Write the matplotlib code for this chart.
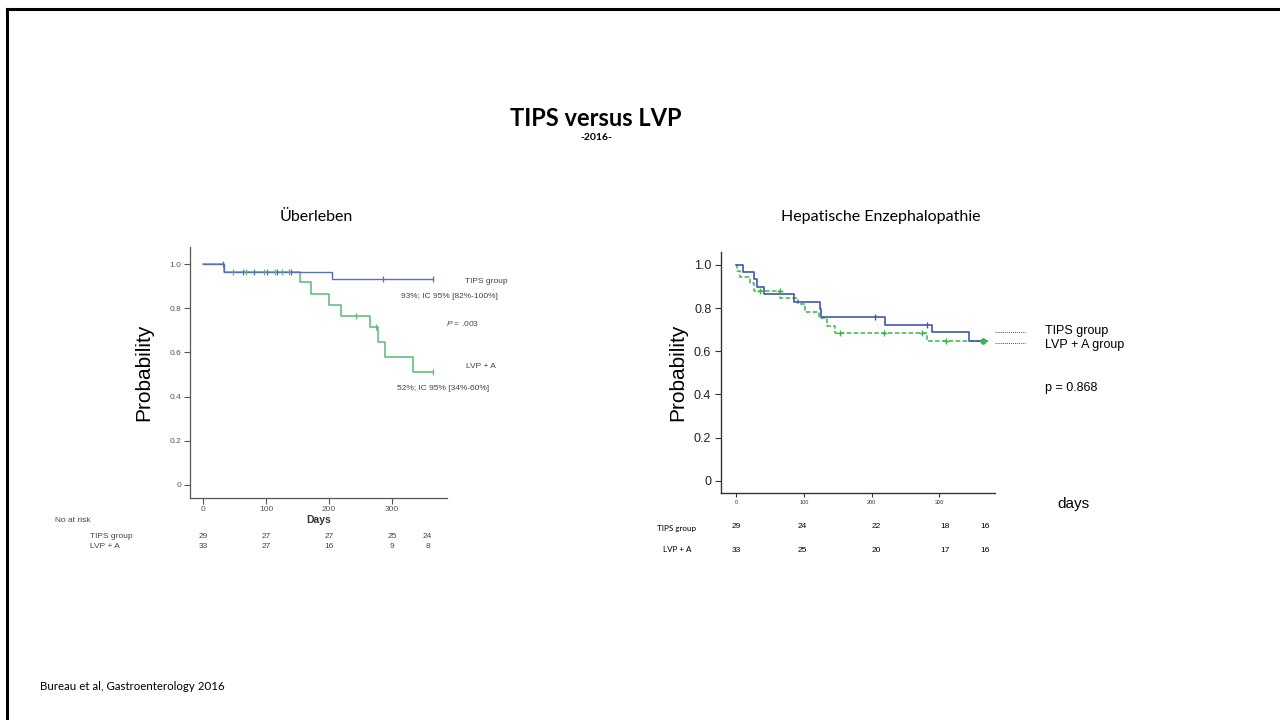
import numpy as np
import matplotlib
matplotlib.use("Agg")
import matplotlib.pyplot as plt
from matplotlib.lines import Line2D
from matplotlib import transforms

plt.rcParams["mathtext.fontset"] = "custom"
plt.rcParams["mathtext.it"] = "Liberation Sans:italic"
plt.rcParams["mathtext.rm"] = "Liberation Sans"

# ---------------- data ----------------
# Left panel: survival (Überleben)
surv_tips_t = [0, 33, 205, 365]
surv_tips_s = [1.0, 0.966, 0.931, 0.931]
surv_lvp_t = [0, 33, 154, 171, 200, 219, 265, 278, 289, 333, 365]
surv_lvp_s = [1.0, 0.966, 0.92, 0.866, 0.814, 0.766, 0.715, 0.647, 0.579, 0.513, 0.513]
surv_tips_cens = [31, 64, 81, 101, 117, 139, 285, 365]
surv_lvp_cens = [48, 68, 97, 114, 125, 136, 242, 275, 365]
surv_risk_days = [0, 100, 200, 300, 356]
surv_risk_tips = [29, 27, 27, 25, 24]
surv_risk_lvp = [33, 27, 16, 9, 8]
surv_xticks = [0, 100, 200, 300]
surv_yticks = [0, 0.2, 0.4, 0.6, 0.8, 1.0]
surv_yticklabels = ["0", "0.2", "0.4", "0.6", "0.8", "1.0"]

# Right panel: hepatic encephalopathy
he_tips_t = [0, 10, 25.6, 30.5, 41, 84.5, 123, 125.6, 220, 289, 343, 370]
he_tips_s = [1.0, 0.969, 0.934, 0.899, 0.866, 0.83, 0.795, 0.76, 0.723, 0.689, 0.649, 0.649]
he_tips_cens = [205, 282, 364]
he_lvp_t = [0, 1, 6, 20.6, 25.6, 65, 91, 101, 121.5, 134, 145, 281, 364]
he_lvp_s = [1.0, 0.974, 0.943, 0.915, 0.881, 0.848, 0.818, 0.784, 0.753, 0.717, 0.686, 0.649, 0.649]
he_lvp_cens = [35, 64, 153.5, 218.6, 274, 310]
he_risk_days = [0, 97, 207, 308, 367]
he_risk_tips = [29, 24, 22, 18, 16]
he_risk_lvp = [33, 25, 20, 17, 16]
he_xticks = [0, 100, 200, 300]
he_yticks = [0, 0.2, 0.4, 0.6, 0.8, 1.0]
he_yticklabels = ["0", "0.2", "0.4", "0.6", "0.8", "1.0"]

W, H = 1280, 720
CHART_FONT = "Liberation Sans"
SLIDE_FONT = "Lato"

fig = plt.figure(figsize=(12.8, 7.2), dpi=100)
fig.patch.set_facecolor("white")


def fx(x):
    return x / W


def fy(y):
    return 1 - y / H


def ftext(x, y, s, **kw):
    fig.text(fx(x), fy(y), s, **kw)


def step_val(t, s, x):
    i = np.searchsorted(np.asarray(t), x, side="right") - 1
    return np.asarray(s)[i]


# border of slide
fig.add_artist(Line2D([fx(7), fx(1280)], [fy(9), fy(9)], color="black", lw=2.2))
fig.add_artist(Line2D([fx(7), fx(7)], [fy(9), fy(720)], color="black", lw=2.2))

# slide texts
ftext(596, 119, "TIPS versus LVP", ha="center", va="center", fontsize=17,
      fontweight="bold", family=SLIDE_FONT)
ftext(596, 138, "-2016-", ha="center", va="center", fontsize=7.5,
      fontweight="bold", family=SLIDE_FONT)
ftext(316, 217, "Überleben", ha="center", va="center", fontsize=11.5, family=SLIDE_FONT)
ftext(881, 217, "Hepatische Enzephalopathie", ha="center", va="center",
      fontsize=11.5, family=SLIDE_FONT)
ftext(40, 687, "Bureau et al, Gastroenterology 2016", ha="left", va="center",
      fontsize=8.3, family=SLIDE_FONT)

# ---------------- left panel ----------------
L_l, L_t, L_r, L_b = 190, 247, 447, 498
axL = fig.add_axes([fx(L_l), fy(L_b), (L_r - L_l) / W, (L_b - L_t) / H])
axL.set_xlim(-20.6, 387)
axL.set_ylim(-0.059, 1.077)
blue1 = "#5472b8"
green1 = "#5bb872"
axL.step(surv_tips_t, surv_tips_s, where="post", color=blue1, lw=1.0, zorder=3)
axL.step(surv_lvp_t, surv_lvp_s, where="post", color=green1, lw=1.1, zorder=2)
axL.plot(surv_tips_cens, [step_val(surv_tips_t, surv_tips_s, c) for c in surv_tips_cens],
         ls="none", marker="|", ms=4, mew=0.9, color=blue1, zorder=4)
axL.plot(surv_lvp_cens, [step_val(surv_lvp_t, surv_lvp_s, c) for c in surv_lvp_cens],
         ls="none", marker="|", ms=4, mew=0.9, color=green1, zorder=4)
for sp in ["top", "right"]:
    axL.spines[sp].set_visible(False)
for sp in ["left", "bottom"]:
    axL.spines[sp].set_color("#555555")
    axL.spines[sp].set_linewidth(0.9)
axL.set_xticks(surv_xticks)
axL.set_xticklabels([str(v) for v in surv_xticks])
axL.set_yticks(surv_yticks)
axL.set_yticklabels(surv_yticklabels)
axL.tick_params(axis="both", length=4, width=0.8, color="#555555",
                labelsize=6, labelcolor="#555555", pad=2)
for lab in axL.get_xticklabels() + axL.get_yticklabels():
    lab.set_family(CHART_FONT)
axL.set_ylabel("Probability", fontsize=15, family=CHART_FONT, labelpad=12)
axL.set_xlabel("Days", fontsize=7.5, fontweight="bold", family=CHART_FONT,
               color="#333333", labelpad=1)

ftext(465, 282, "TIPS group", fontsize=6, color="#444444", family=CHART_FONT, va="center")
ftext(401, 297, "93%; IC 95% [82%-100%]", fontsize=6, color="#444444",
      family=CHART_FONT, va="center")
ftext(446, 324, "$\\it{P}$ = .003", fontsize=6, color="#444444", family=CHART_FONT, va="center")
ftext(466, 367, "LVP + A", fontsize=6, color="#444444", family=CHART_FONT, va="center")
ftext(397, 388, "52%; IC 95% [34%-60%]", fontsize=6, color="#444444",
      family=CHART_FONT, va="center")

ftext(55, 520, "No at risk", fontsize=6, color="#444444", family=CHART_FONT, va="center")
ftext(90, 537, "TIPS group", fontsize=6, color="#444444", family=CHART_FONT, va="center")
ftext(90, 546, "LVP + A", fontsize=6, color="#444444", family=CHART_FONT, va="center")
trL = transforms.blended_transform_factory(axL.transData, fig.transFigure)
for d, a, b in zip(surv_risk_days, surv_risk_tips, surv_risk_lvp):
    axL.text(d, fy(537), str(a), transform=trL, ha="center", va="center", fontsize=6,
             color="#444444", family=CHART_FONT, clip_on=False)
    axL.text(d, fy(546), str(b), transform=trL, ha="center", va="center", fontsize=6,
             color="#444444", family=CHART_FONT, clip_on=False)

# ---------------- right panel ----------------
R_l, R_t, R_r, R_b = 721, 252, 995, 493
axR = fig.add_axes([fx(R_l), fy(R_b), (R_r - R_l) / W, (R_b - R_t) / H])
axR.set_xlim(-22.7, 382)
axR.set_ylim(-0.057, 1.06)
blue2 = "#4058b0"
green2 = "#3cb54a"
axR.step(he_tips_t, he_tips_s, where="post", color=blue2, lw=1.2, zorder=3)
axR.step(he_lvp_t, he_lvp_s, where="post", color=green2, lw=1.1, ls=(0, (3, 1.5)), zorder=2)
axR.plot(he_tips_cens, [step_val(he_tips_t, he_tips_s, c) for c in he_tips_cens],
         ls="none", marker="|", ms=4, mew=1.0, color=blue2, zorder=4)
axR.plot(he_lvp_cens, [step_val(he_lvp_t, he_lvp_s, c) for c in he_lvp_cens],
         ls="none", marker="+", ms=4, mew=1.0, color=green2, zorder=4)
axR.plot([he_lvp_t[-1]], [he_lvp_s[-1]], ls="none", marker="o", ms=3.5,
         color=green2, zorder=5)
for sp in ["top", "right"]:
    axR.spines[sp].set_visible(False)
for sp in ["left", "bottom"]:
    axR.spines[sp].set_color("#333333")
    axR.spines[sp].set_linewidth(1.0)
axR.set_xticks(he_xticks)
axR.set_xticklabels([str(v) for v in he_xticks])
axR.set_yticks(he_yticks)
axR.set_yticklabels(he_yticklabels)
axR.tick_params(axis="x", length=3, width=0.8, color="#333333", labelsize=4,
                labelcolor="#333333", pad=2)
axR.tick_params(axis="y", length=4, width=0.8, color="#333333", labelsize=9,
                labelcolor="#222222", pad=3)
for lab in axR.get_xticklabels() + axR.get_yticklabels():
    lab.set_family(CHART_FONT)
axR.set_ylabel("Probability", fontsize=15, family=CHART_FONT, labelpad=5)

ftext(1057, 504, "days", fontsize=11, family=CHART_FONT, va="center")

fig.add_artist(Line2D([fx(995), fx(1025)], [fy(332), fy(332)], color="#555555",
                      lw=0.7, ls=(0, (1, 1))))
fig.add_artist(Line2D([fx(995), fx(1025)], [fy(343), fy(343)], color="#555555",
                      lw=0.7, ls=(0, (1, 1))))
ftext(1045, 331, "TIPS group", fontsize=9, family=CHART_FONT, va="center")
ftext(1045, 345, "LVP + A group", fontsize=9, family=CHART_FONT, va="center")
ftext(1045, 388, "p = 0.868", fontsize=9, family=CHART_FONT, va="center")

ftext(657, 528, "TIPS group", fontsize=5.8, family=SLIDE_FONT, va="center")
ftext(663, 550, "LVP + A", fontsize=5.8, family=SLIDE_FONT, va="center")
trR = transforms.blended_transform_factory(axR.transData, fig.transFigure)
for d, a, b in zip(he_risk_days, he_risk_tips, he_risk_lvp):
    axR.text(d, fy(527), str(a), transform=trR, ha="center", va="center", fontsize=6,
             family=CHART_FONT, clip_on=False)
    axR.text(d, fy(550), str(b), transform=trR, ha="center", va="center", fontsize=6,
             family=CHART_FONT, clip_on=False)

fig.savefig("out.png", dpi=100, facecolor="white")
